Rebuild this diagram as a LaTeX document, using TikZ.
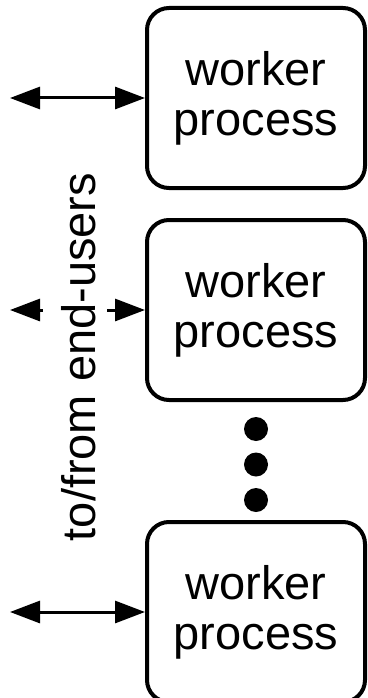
\documentclass[tikz,border=0pt]{standalone}
\usepackage{fontspec}
\setmainfont{Liberation Sans}
\usetikzlibrary{arrows.meta}

\begin{document}
\begin{tikzpicture}[x=1pt, y=-1pt,
    worker/.style={draw, line width=4pt, rounded corners=22pt,
      minimum width=218pt, minimum height=180pt, align=center,
      font=\fontsize{47}{50}\selectfont},
    dot/.style={circle, fill, inner sep=0pt, minimum size=24pt},
    link/.style={line width=3pt,
      {Triangle[length=30pt,width=22pt]}-{Triangle[length=30pt,width=22pt]}}]
  \useasboundingbox (0,0) rectangle (367,698);

  % Worker boxes
  \node[worker] (w1) at (256,98) {worker\\process};
  \node[worker] (w2) at (256,310) {worker\\process};
  \node[worker] (w3) at (256,612) {worker\\process};

  % Dots between the last two boxes
  \foreach \i/\y in {1/429, 2/464.5, 3/500} {
    \node[dot] (dot\i) at (256,\y) {};
  }

  % Links to the outside
  \coordinate (u1) at (10,98);
  \coordinate (u2) at (10,310);
  \coordinate (u3) at (10,612);
  \draw[link] (u1) -- (w1.west);
  \draw[link] (u2) -- (w2.west);
  \draw[link] (u3) -- (w3.west);

  % Side label (covers the middle link)
  \node[rotate=90, anchor=base, fill=white, inner sep=0pt,
    text height=52pt, text depth=12pt,
    font=\fontsize{47}{50}\selectfont] (users) at (95,357) {to/from end-users};
\end{tikzpicture}
\end{document}
